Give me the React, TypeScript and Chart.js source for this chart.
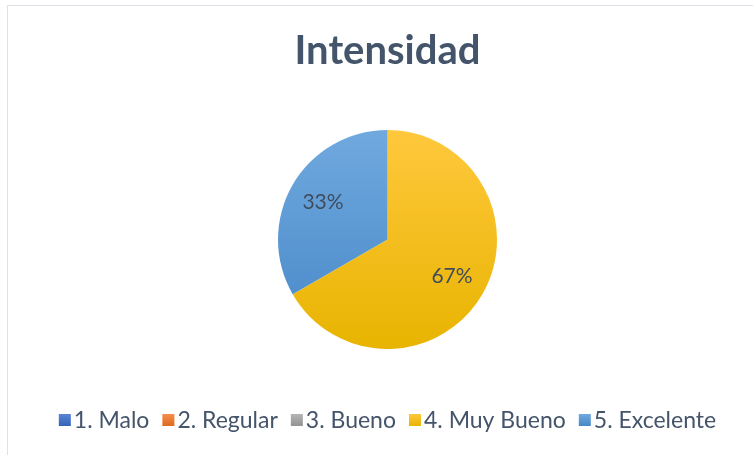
import React, { useEffect, useRef } from "react";
import { Chart, registerables } from "chart.js";

Chart.register(...registerables);

const TITLE = "Intensidad";
const categories = ["1. Malo", "2. Regular", "3. Bueno", "4. Muy Bueno", "5. Excelente"];
const values = [0, 0, 0, 2, 1];
const colorsTop = ["#5A86D4", "#F48E4C", "#B5B5B5", "#FFC83D", "#70A9DE"];
const colorsBottom = ["#3563B8", "#E06A1E", "#939393", "#E8B400", "#4687C8"];

const FONT = "Lato, 'Open Sans', sans-serif";
const TEXT_COLOR = "#44546A";

const W = 753;
const H = 455;
const PIE_R = 109.5;

function makeGradient(chart: any, i: number) {
  const ca = chart.chartArea;
  if (!ca || !isFinite(ca.top) || !isFinite(ca.bottom)) return colorsTop[i];
  const cy = (ca.top + ca.bottom) / 2;
  const g = chart.ctx.createLinearGradient(0, cy - PIE_R, 0, cy + PIE_R);
  g.addColorStop(0, colorsTop[i]);
  g.addColorStop(1, colorsBottom[i]);
  return g;
}

const labelsPlugin = {
  id: "pctLabels",
  afterDatasetsDraw(chart: any) {
    const ctx = chart.ctx;
    const meta = chart.getDatasetMeta(0);
    const data = chart.data.datasets[0].data as number[];
    const total = data.reduce((a, b) => a + b, 0);
    ctx.save();
    ctx.font = `21px ${FONT}`;
    ctx.fillStyle = "#404D5E";
    ctx.textAlign = "center";
    ctx.textBaseline = "middle";
    meta.data.forEach((arc: any, i: number) => {
      const v = data[i];
      if (!v) return;
      const mid = (arc.startAngle + arc.endAngle) / 2;
      const rr = arc.outerRadius * 0.68;
      const x = arc.x + Math.cos(mid) * rr;
      const y = arc.y + Math.sin(mid) * rr;
      ctx.fillText(Math.round((v / total) * 100) + "%", x, y);
    });
    ctx.restore();
  },
};

const legendPlugin = {
  id: "customLegend",
  afterDraw(chart: any) {
    const ctx = chart.ctx;
    const labels = chart.data.labels as string[];
    const ca = chart.chartArea;
    const cx = (ca.left + ca.right) / 2;
    const y = 420;
    const box = 12;
    const gapBoxText = 3;
    const gapItems = 13;
    ctx.save();
    ctx.font = `23px ${FONT}`;
    ctx.textBaseline = "middle";
    ctx.textAlign = "left";
    const widths = labels.map((l) => ctx.measureText(l).width);
    const total =
      widths.reduce((a, w) => a + box + gapBoxText + w, 0) + gapItems * (labels.length - 1);
    let x = cx - total / 2;
    labels.forEach((l, i) => {
      const g = ctx.createLinearGradient(0, y - box / 2, 0, y + box / 2);
      g.addColorStop(0, colorsTop[i]);
      g.addColorStop(1, colorsBottom[i]);
      ctx.fillStyle = g;
      ctx.fillRect(x, y - box / 2, box, box);
      x += box + gapBoxText;
      ctx.fillStyle = TEXT_COLOR;
      ctx.fillText(l, x, y + 1);
      x += widths[i] + gapItems;
    });
    ctx.restore();
  },
};

export default function App() {
  const ref = useRef<HTMLCanvasElement | null>(null);
  useEffect(() => {
    if (!ref.current) return;
    const chart = new Chart(ref.current, {
      type: "pie",
      data: {
        labels: categories,
        datasets: [
          {
            data: values,
            backgroundColor: (c: any) => makeGradient(c.chart, c.dataIndex),
            borderWidth: 0,
          },
        ],
      },
      options: {
        responsive: false,
        animation: false,
        radius: PIE_R,
        layout: { padding: { left: 22, right: 0, top: 0, bottom: 80 } },
        plugins: {
          legend: { display: false },
          tooltip: { enabled: false },
          title: {
            display: true,
            text: TITLE,
            color: TEXT_COLOR,
            font: { family: FONT, size: 40, weight: "bold" },
            padding: { top: 27, bottom: 29 },
          },
        },
      },
      plugins: [labelsPlugin, legendPlugin],
    });
    return () => chart.destroy();
  }, []);
  return (
    <div
      style={{
        position: "fixed",
        left: 0,
        top: 0,
        width: W,
        height: H,
        overflow: "hidden",
        background: "#fff",
      }}
    >
      <div
        style={{
          position: "absolute",
          left: 7,
          top: 5,
          width: 800,
          height: 500,
          border: "1px solid #DDE2E8",
        }}
      />
      <canvas
        ref={ref}
        width={W}
        height={H}
        style={{ position: "absolute", left: 0, top: 0, width: W, height: H }}
      />
    </div>
  );
}
